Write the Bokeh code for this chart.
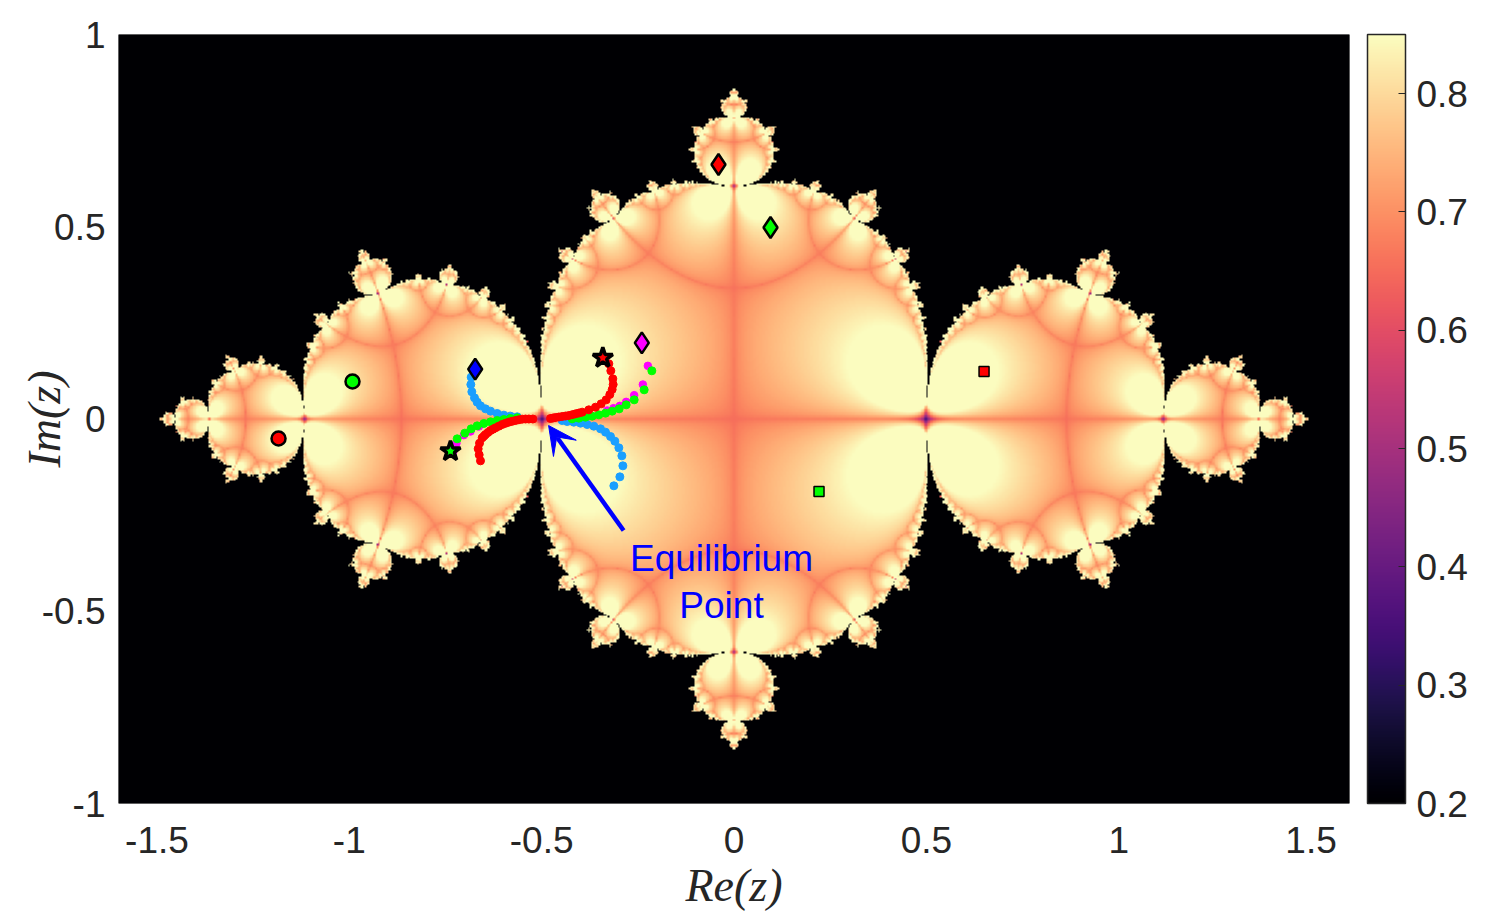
import numpy as np
from bokeh.embed import file_html
from bokeh.resources import INLINE
from bokeh.plotting import figure
from bokeh.models import LinearColorMapper, ColorBar, FixedTicker, Arrow, VeeHead, Range1d
from bokeh.palettes import Magma256
from bokeh.core.properties import value

# trajectories (Re, Im)
red_x = [-0.3254,-0.3202,-0.3150,-0.3141,-0.3167,-0.3228,-0.3323,-0.3453,-0.3600,-0.3774,-0.3947,-0.4034,-0.4120,-0.4207,-0.4294,-0.4380,-0.4467,-0.4553,-0.4640,-0.4705,-0.4770,
         -0.6590,-0.6624,-0.6650,-0.6615,-0.6546,-0.6500,-0.6459,-0.6394,-0.6329,-0.6264,-0.6199,-0.6112,-0.6026,-0.5940,-0.5853,-0.5766,-0.5680,-0.5593,-0.5507,-0.5420,-0.5333,-0.5229]
red_y = [0.1435,0.1253,0.1045,0.0897,0.0767,0.0637,0.0498,0.0394,0.0308,0.0238,0.0178,0.0155,0.0134,0.0112,0.0091,0.0078,0.0065,0.0052,0.0039,0.0026,0.0013,
         -0.1088,-0.0932,-0.0776,-0.0629,-0.0490,-0.0445,-0.0403,-0.0350,-0.0299,-0.0265,-0.0230,-0.0186,-0.0143,-0.0112,-0.0082,-0.0060,-0.0039,-0.0020,-0.0004,0.0,0.0,0.0]
blue_x = [-0.6832,-0.6841,-0.6815,-0.6746,-0.6676,-0.6590,-0.6460,-0.6329,-0.6156,-0.5983,-0.5810,-0.5636,
          -0.3123,-0.2967,-0.2889,-0.2915,-0.2993,-0.3097,-0.3210,-0.3340,-0.3470,-0.3644,-0.3817,-0.3990,-0.4164,-0.4337,-0.4467]
blue_y = [0.1088,0.0897,0.0707,0.0550,0.0438,0.0342,0.0264,0.0204,0.0143,0.0100,0.0074,0.0056,
          -0.1738,-0.1504,-0.1218,-0.0958,-0.0750,-0.0577,-0.0455,-0.0342,-0.0256,-0.0186,-0.0143,-0.0108,-0.0082,-0.0065,-0.0039]
magenta_x = [-0.2240,-0.2370,-0.2595,-0.2803,-0.2967,-0.3132,-0.3297,-0.7300,-0.7214,-0.7023,-0.6850,-0.6633]
magenta_y = [0.1383,0.0897,0.0620,0.0446,0.0342,0.0282,0.0221,-0.0863,-0.0629,-0.0420,-0.0325,-0.0195]
green_x = [-0.2136,-0.2335,-0.2595,-0.2803,-0.2985,-0.3167,-0.3340,-0.3513,-0.3687,-0.3860,-0.4034,-0.4207,
           -0.7196,-0.6997,-0.6832,-0.6676,-0.6503,-0.6329,-0.6156,-0.5983,-0.5810,-0.5636]
green_y = [0.1253,0.0759,0.0498,0.0368,0.0264,0.0204,0.0152,0.0108,0.0074,0.0048,0.0022,0.0004,
           -0.0516,-0.0368,-0.0256,-0.0178,-0.0117,-0.0074,-0.0039,-0.0013,0.0013,0.0030]

circle_x, circle_y, circle_c = [-1.184,-0.9917], [-0.0507,0.0975], ["#ff0000","#00ff00"]
square_x, square_y, square_c = [0.650,0.221], [0.1235,-0.1886], ["#ff0000","#00ff00"]
diamond_x, diamond_y, diamond_c = [-0.6728,-0.2396,-0.0403,0.0949], [0.1296,0.1981,0.6619,0.4980], ["#0000ff","#ff00ff","#ff0000","#00ff00"]
star_x, star_y, star_c = [-0.3410,-0.7370], [0.1591,-0.0837], ["#ff0000","#00ff00"]

x_ticks = [-1.5,-1,-0.5,0,0.5,1,1.5]
y_ticks = [-1,-0.5,0,0.5,1]
bar_ticks = [0.2,0.3,0.4,0.5,0.6,0.7,0.8]
C = -0.75
ITER = 300
P = 0.35

# background: Lagrangian-descriptor field of the map z -> z^2 + C
nx, ny = 820, 512
xs = np.linspace(-1.6, 1.6, nx)
ys = np.linspace(-1.0, 1.0, ny)
X, Y = np.meshgrid(xs, ys)
z = (X + 1j*Y).ravel()
M = np.zeros(z.size)
alive = np.arange(z.size)
zz = z.copy()
for _ in range(ITER):
    nz = zz*zz + C
    d = nz - zz
    M[alive] += np.abs(d.real)**P + np.abs(d.imag)**P
    keep = np.abs(nz) < 2.5
    zz = nz[keep]
    alive = alive[keep]
mask = np.zeros(z.size, bool)
mask[alive] = True
F = 0.85 * (M / np.percentile(M[mask], 78))
F[~mask] = 0.0
F = F.reshape(ny, nx)

mapper = LinearColorMapper(palette=list(Magma256), low=0.2, high=0.85)

p = figure(frame_width=1231, frame_height=769, x_range=Range1d(-1.6,1.6), y_range=Range1d(-1,1),
           output_backend="svg", toolbar_location=None,
           min_border_left=118, min_border_top=34, min_border_bottom=105, min_border_right=24)
p.image(image=[F], x=-1.6, y=-1, dw=3.2, dh=2, color_mapper=mapper)
p.grid.visible = False
p.outline_line_color = None
p.background_fill_color = "black"

for ax, ticks in ((p.xaxis[0], x_ticks), (p.yaxis[0], y_ticks)):
    ax.ticker = FixedTicker(ticks=ticks)
    ax.major_label_overrides = {t: str(t) for t in ticks}
    ax.major_label_text_font = "Liberation Sans"
    ax.major_label_text_font_size = "37px"
    ax.major_label_text_color = "#262626"
    ax.axis_line_color = None
    ax.major_tick_line_color = None
    ax.minor_tick_line_color = None
    ax.major_tick_out = 0
    ax.major_tick_in = 0
    ax.axis_label_text_font = "Liberation Serif"
    ax.axis_label_text_font_style = "italic"
    ax.axis_label_text_font_size = "46px"
    ax.axis_label_text_color = "#262626"
p.xaxis[0].axis_label = "Re(z)"
p.yaxis[0].axis_label = "Im(z)"
p.xaxis[0].major_label_standoff = 23
p.yaxis[0].major_label_standoff = 13
p.xaxis[0].axis_label_standoff = 4
p.yaxis[0].axis_label_standoff = -31

cb = ColorBar(color_mapper=mapper, ticker=FixedTicker(ticks=bar_ticks), width=38, location=(18,0),
              padding=0, margin=18, major_label_text_font="Liberation Sans",
              major_label_text_font_size="37px", major_label_text_color="#262626",
              major_tick_in=7, major_tick_out=0, major_tick_line_color="#262626",
              bar_line_color="#262626", bar_line_width=1.5, label_standoff=11,
              minor_tick_line_color=None)
p.add_layout(cb, "right")

p.scatter(blue_x, blue_y, size=8, color="#1a9fff")
p.scatter(magenta_x, magenta_y, size=7.5, color="#ff00ff")
p.scatter(green_x, green_y, size=8, color="#00ff00")
p.scatter(red_x, red_y, size=8, color="#ff0000")

p.add_layout(Arrow(end=VeeHead(size=28, fill_color="#0000ff", line_color="#0000ff", line_width=1),
                   x_start=-0.287, y_start=-0.29, x_end=-0.482, y_end=-0.017,
                   line_color="#0000ff", line_width=4.5))

p.scatter(circle_x, circle_y, marker="circle", size=14, fill_color=circle_c, line_color="black", line_width=2.5)
p.scatter(square_x, square_y, marker="square", size=10, fill_color=square_c, line_color="black", line_width=1.5)
p.scatter(diamond_x, diamond_y, marker="diamond", size=21, fill_color=diamond_c, line_color="black", line_width=2.5)
p.scatter(star_x, star_y, marker="star", size=21, fill_color=star_c, line_color="black", line_width=3.5)

p.text([-0.0325,-0.0325], [-0.363,-0.485], text=["Equilibrium","Point"], text_color="#0000ff",
       text_font=value("Liberation Sans"), text_font_size="37px", text_align="center", text_baseline="middle")

open("out.html", "w").write(file_html(p, INLINE))
